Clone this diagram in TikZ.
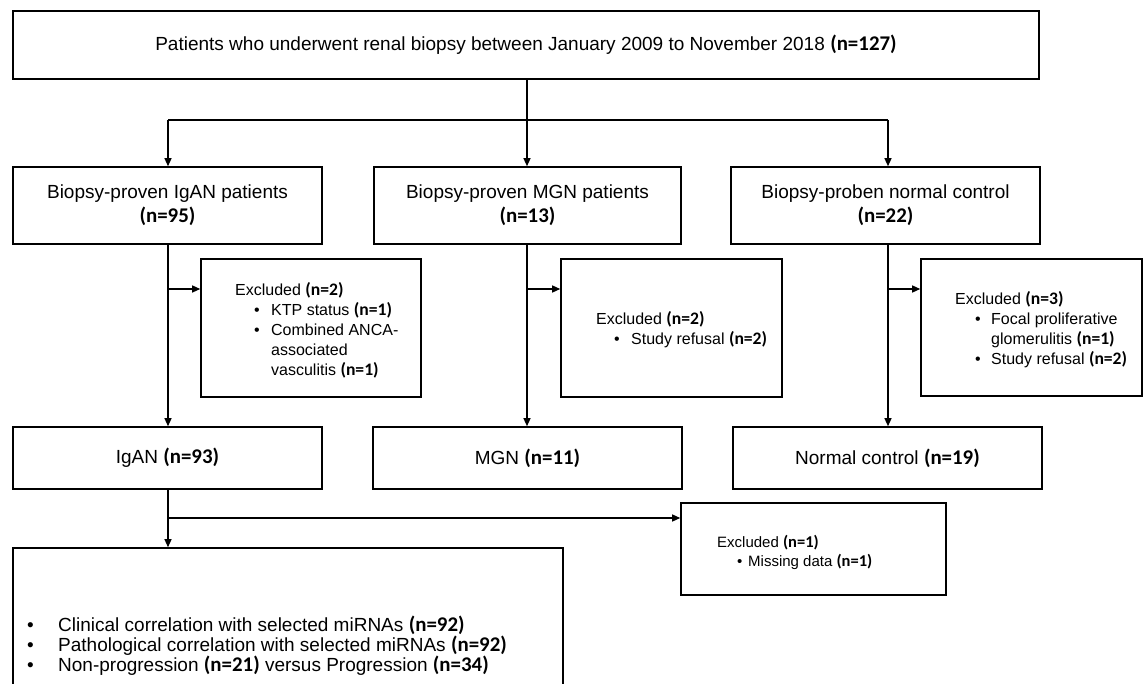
\documentclass[tikz,border=0pt]{standalone}
\usepackage{fontspec}
\setmainfont{Liberation Sans}
\newfontfamily\carl[Scale=1.1]{Carlito}
\usetikzlibrary{arrows.meta}
\newcommand\nn[1]{{\carl\bfseries(n=#1)}}
\newcommand\bul[1]{\makebox[#1][l]{\textbullet}}
\begin{document}
\begin{tikzpicture}[x=1pt,y=-1pt,
  box/.style={draw, line width=1.6pt, inner sep=0pt, align=center},
  conn/.style={line width=1.3pt},
  arr/.style={conn, -{Triangle[length=8pt,width=7pt]}},
  big/.style={font=\fontsize{19}{24}\selectfont},
  small/.style={font=\fontsize{16}{20}\selectfont, align=left, inner sep=0pt, anchor=west},
  tiny/.style={font=\fontsize{15}{19}\selectfont, align=left, inner sep=0pt, anchor=west},
  lower/.style={font=\fontsize{19}{16}\selectfont, align=left, inner sep=0pt, anchor=west}
]
\useasboundingbox (0,0) rectangle (1146,684);
\clip (0,0) rectangle (1146,684);

% top
\node[box, big, minimum width=1026pt, minimum height=68pt] (top) at (526,45)
  {Patients who underwent renal biopsy between January 2009 to November 2018 \nn{127}};

% row 2
\node[box, big, minimum width=309pt, minimum height=77pt] (igan) at (167.5,205.5)
  {Biopsy-proven IgAN patients\\\nn{95}};
\node[box, big, minimum width=307pt, minimum height=77pt] (mgn) at (527.5,205.5)
  {Biopsy-proven MGN patients\\\nn{13}};
\node[box, big, minimum width=309pt, minimum height=77pt] (norm) at (885.5,205.5)
  {Biopsy-proben normal control\\\nn{22}};

% excluded boxes
\node[box, minimum width=220pt, minimum height=138pt] (ex1) at (311,328) {};
\node[box, minimum width=221pt, minimum height=138pt] (ex2) at (671.5,328) {};
\node[box, minimum width=221pt, minimum height=137pt] (ex3) at (1031.5,327.5) {};

\node[small] (ex1t) at (235,330) {Excluded \nn{2}\\
  \hspace*{19pt}\bul{17pt}KTP status \nn{1}\\
  \hspace*{19pt}\bul{17pt}Combined ANCA-\\
  \hspace*{36pt}associated\\
  \hspace*{36pt}vasculitis \nn{1}};
\node[small] (ex2t) at (596,330) {Excluded \nn{2}\\
  \hspace*{18pt}\bul{17pt}Study refusal \nn{2}};
\node[small] (ex3t) at (955,330) {Excluded \nn{3}\\
  \hspace*{20pt}\bul{16pt}Focal proliferative\\
  \hspace*{36pt}glomerulitis \nn{1}\\
  \hspace*{20pt}\bul{16pt}Study refusal \nn{2}};

% row 3
\node[box, big, minimum width=309pt, minimum height=62pt] (igan3) at (167.5,458) {IgAN \nn{93}};
\node[box, big, minimum width=309pt, minimum height=62pt] (mgn3) at (527.5,458) {MGN \nn{11}};
\node[box, big, minimum width=309pt, minimum height=62pt] (norm3) at (887.5,458) {Normal control \nn{19}};

% excluded 4
\node[box, minimum width=265pt, minimum height=92pt] (ex4) at (813.5,549) {};
\node[tiny] (ex4t) at (717,552) {Excluded \nn{1}\\
  \hspace*{20pt}\bul{11pt}Missing data \nn{1}};

% bottom box
\node[box, minimum width=550pt, minimum height=152pt] (bot) at (288,624) {};
\node[lower] (bott) at (27,646) {\bul{31pt}Clinical correlation with selected miRNAs \nn{92}\\
  \bul{31pt}Pathological correlation with selected miRNAs \nn{92}\\
  \bul{31pt}Non-progression \nn{21} versus Progression \nn{34}};

% connectors top
\coordinate (j0) at (527,120);
\coordinate (hl) at (168,120);
\coordinate (hr) at (888,120);
\draw[conn] (top.south -| j0) -- (j0);
\draw[conn] (hl) -- (hr);
\draw[arr] (hl) -- (igan.north -| hl);
\draw[arr] (j0) -- (mgn.north -| j0);
\draw[arr] (hr) -- (norm.north -| hr);

% row2 -> row3 with branches
\coordinate (b1) at (168,289);
\coordinate (b2) at (527,289);
\coordinate (b3) at (888,289);
\draw[arr] (igan.south -| b1) -- (igan3.north -| b1);
\draw[arr] (mgn.south -| b2) -- (mgn3.north -| b2);
\draw[arr] (norm.south -| b3) -- (norm3.north -| b3);
\draw[arr] (b1) -- (ex1.west |- b1);
\draw[arr] (b2) -- (ex2.west |- b2);
\draw[arr] (b3) -- (ex3.west |- b3);

% row3 -> bottom
\coordinate (b4) at (168,518);
\draw[arr] (igan3.south -| b4) -- (bot.north -| b4);
\draw[arr] (b4) -- (ex4.west |- b4);
\end{tikzpicture}
\end{document}
